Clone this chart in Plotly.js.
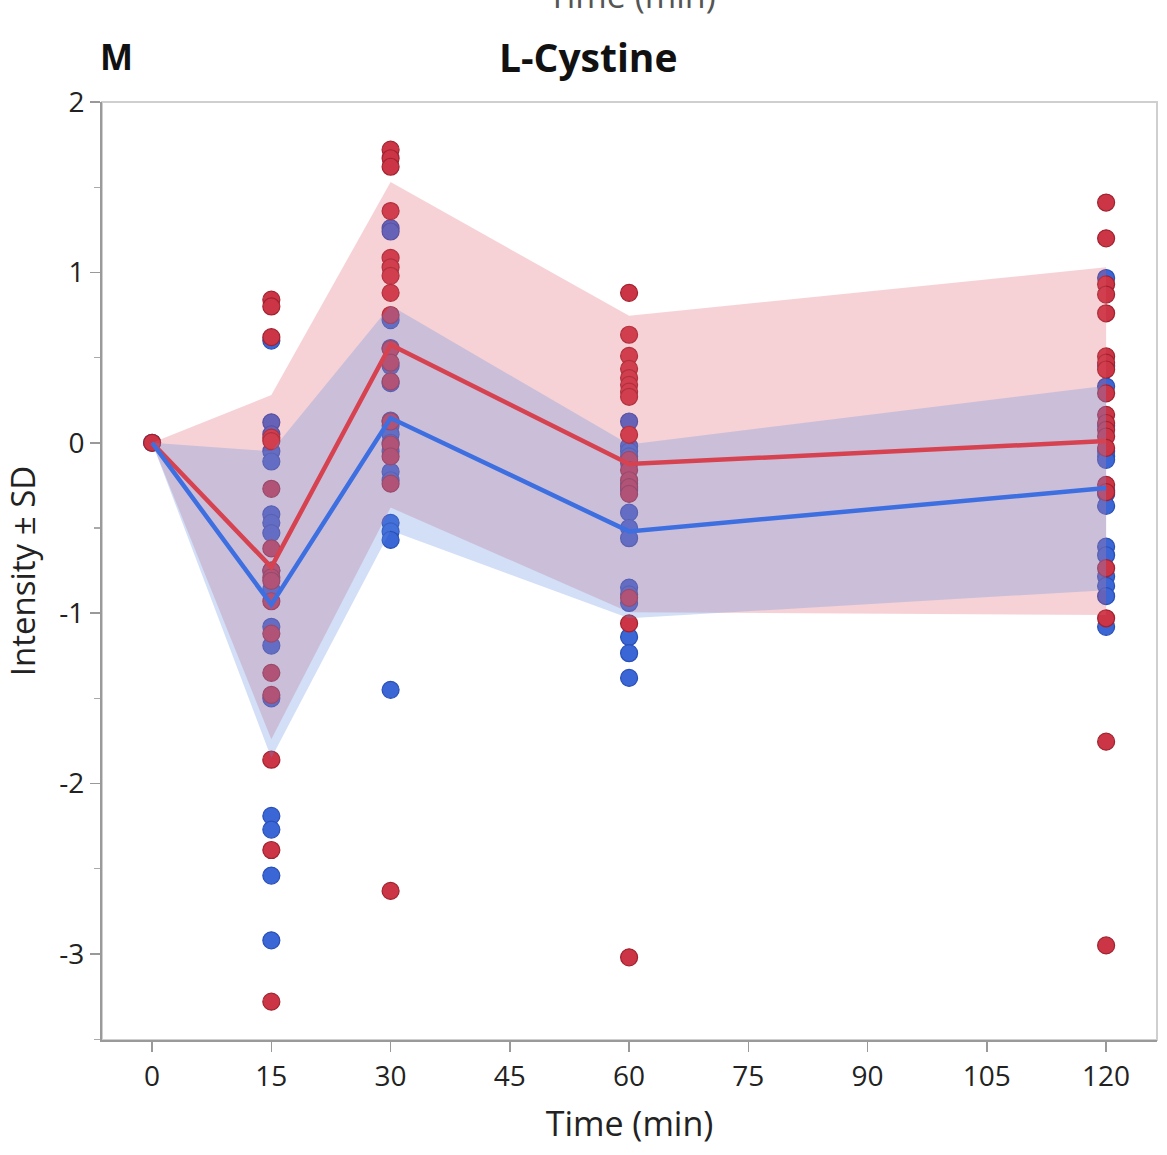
<!DOCTYPE html>
<html>
<head>
<meta charset="utf-8">
<script src="https://cdn.plot.ly/plotly-3.0.1.min.js"></script>
<style>
  html, body { margin: 0; padding: 0; background: #fff; }
  #chart { width: 1167px; height: 1155px; }
</style>
</head>
<body>
<div id="chart"></div>
<script>
// ---- Data ----
const times = [0, 15, 30, 60, 120];
const xTickVals = [0, 15, 30, 45, 60, 75, 90, 105, 120];
const yTickVals = [2, 1, 0, -1, -2, -3];
const yTickText = ["2", "1", "0", "-1", "-2", "-3"];

// Group means and SDs
const redMean = [0, -0.73, 0.575, -0.125, 0.01];
const redSD = [0, 1.01, 0.955, 0.87, 1.02];
const blueMean = [0, -0.95, 0.145, -0.52, -0.265];
const blueSD = [0, 0.9, 0.66, 0.51, 0.6];

// Individual observations per time point
const blue0 = [0];
const red0 = [0];
const blue15 = [0.60, 0.12, 0.05, -0.05, -0.11, -0.42, -0.47, -0.53, -0.75, -0.86, -1.08, -1.19, -1.50, -2.19, -2.27, -2.54, -2.92];
const red15 = [0.84, 0.80, 0.62, 0.03, 0.01, -0.27, -0.62, -0.75, -0.79, -0.81, -0.93, -1.12, -1.35, -1.48, -1.86, -2.39, -3.28];
const blue30 = [1.26, 1.24, 0.72, 0.556, 0.45, 0.35, 0.13, 0.10, 0.05, 0.0, -0.05, -0.17, -0.22, -0.47, -0.52, -0.57, -1.45];
const red30 = [1.72, 1.67, 1.62, 1.36, 1.085, 1.03, 0.98, 0.88, 0.75, 0.55, 0.47, 0.36, 0.125, -0.01, -0.08, -0.24, -2.63];
const blue60 = [0.125, -0.02, -0.05, -0.08, -0.12, -0.24, -0.27, -0.28, -0.41, -0.50, -0.56, -0.85, -0.89, -0.94, -1.14, -1.235, -1.38];
const red60 = [0.88, 0.634, 0.51, 0.434, 0.38, 0.34, 0.30, 0.27, 0.047, -0.10, -0.16, -0.22, -0.26, -0.30, -0.91, -1.06, -3.02];
const blue120 = [0.967, 0.45, 0.33, 0.10, -0.05, -0.08, -0.10, -0.28, -0.30, -0.37, -0.61, -0.66, -0.785, -0.84, -0.90, -1.08];
const red120 = [1.41, 1.20, 0.93, 0.87, 0.76, 0.507, 0.47, 0.43, 0.29, 0.164, 0.116, 0.076, 0.037, -0.03, -0.247, -0.29, -0.736, -1.03, -1.754, -2.95];

// ---- Build traces ----
function flatten(groups) {
  const xs = [], ys = [];
  groups.forEach((g, i) => g.forEach(v => { xs.push(times[i]); ys.push(v); }));
  return { xs, ys };
}
const bluePts = flatten([blue0, blue15, blue30, blue60, blue120]);
const redPts = flatten([red0, red15, red30, red60, red120]);

function band(mean, sd) {
  const up = mean.map((m, i) => m + sd[i]);
  const lo = mean.map((m, i) => m - sd[i]);
  return {
    x: times.concat(times.slice().reverse()),
    y: up.concat(lo.slice().reverse())
  };
}
const redBand = band(redMean, redSD);
const blueBand = band(blueMean, blueSD);

const FONT = "'Open Sans', 'Noto Sans', sans-serif";

const traces = [
  {
    x: bluePts.xs, y: bluePts.ys, type: 'scatter', mode: 'markers',
    marker: { size: 17, color: '#3a66d6', line: { color: '#2a4fb5', width: 1.2 } },
    hoverinfo: 'skip', showlegend: false
  },
  {
    x: redPts.xs, y: redPts.ys, type: 'scatter', mode: 'markers',
    marker: { size: 17, color: '#cc3545', line: { color: '#a0222f', width: 1.2 } },
    hoverinfo: 'skip', showlegend: false
  },
  {
    x: redBand.x, y: redBand.y, type: 'scatter', mode: 'lines',
    fill: 'toself', fillcolor: 'rgba(222,90,105,0.27)',
    line: { width: 0 }, hoverinfo: 'skip', showlegend: false
  },
  {
    x: blueBand.x, y: blueBand.y, type: 'scatter', mode: 'lines',
    fill: 'toself', fillcolor: 'rgba(95,140,228,0.28)',
    line: { width: 0 }, hoverinfo: 'skip', showlegend: false
  },
  {
    x: times, y: redMean, type: 'scatter', mode: 'lines',
    line: { color: '#d6424f', width: 4.5 }, hoverinfo: 'skip', showlegend: false
  },
  {
    x: times, y: blueMean, type: 'scatter', mode: 'lines',
    line: { color: '#3e6fe0', width: 4.5 }, hoverinfo: 'skip', showlegend: false
  }
];

const layout = {
  width: 1167, height: 1155,
  margin: { l: 102, r: 10, t: 102, b: 115 },
  paper_bgcolor: '#ffffff', plot_bgcolor: '#ffffff',
  font: { family: FONT, color: '#222' },
  showlegend: false,
  xaxis: {
    range: [-6.3, 126.4],
    tickvals: xTickVals,
    ticktext: xTickVals.map(String),
    ticks: 'outside', ticklen: 10, tickwidth: 1.5, tickcolor: '#999',
    showline: true, linecolor: '#9a9a9a', linewidth: 2,
    showgrid: false, zeroline: false,
    tickfont: { size: 28, family: FONT, color: '#222' },
    title: { text: 'Time (min)', font: { size: 34, family: FONT, color: '#222' }, standoff: 20 }
  },
  yaxis: {
    range: [-3.505, 2],
    tickvals: yTickVals,
    ticktext: yTickText,
    ticks: 'outside', ticklen: 10, tickwidth: 1.5, tickcolor: '#999',
    minor: { dtick: 0.5, tick0: 0, ticks: 'outside', ticklen: 6, tickcolor: '#aaa', tickwidth: 1.2, showgrid: false },
    showline: true, linecolor: '#9a9a9a', linewidth: 2,
    showgrid: false, zeroline: false,
    tickfont: { size: 28, family: FONT, color: '#222' },
    title: { text: 'Intensity ± SD', font: { size: 33, family: FONT, color: '#222' }, standoff: 14 }
  },
  shapes: [
    { type: 'rect', xref: 'paper', yref: 'paper', x0: 0, x1: 1, y0: 0, y1: 1,
      line: { color: '#cfcfcf', width: 2 }, layer: 'below' }
  ],
  annotations: [
    { text: '<b>L-Cystine</b>', xref: 'paper', yref: 'paper', x: 0.4607, y: 1.048,
      xanchor: 'center', yanchor: 'middle', showarrow: false,
      font: { size: 39, family: FONT, color: '#111' } },
    { text: '<b>M</b>', xref: 'paper', yref: 'paper', x: 0.0142, y: 1.048,
      xanchor: 'center', yanchor: 'middle', showarrow: false,
      font: { size: 35, family: FONT, color: '#111' } },
    { text: 'Time (min)', xref: 'paper', yref: 'paper', x: 0.502, y: 1.087,
      xanchor: 'center', yanchor: 'bottom', showarrow: false,
      font: { size: 34, family: FONT, color: '#555' } }
  ]
};

Plotly.newPlot('chart', traces, layout, { staticPlot: true, displayModeBar: false });
</script>
</body>
</html>
